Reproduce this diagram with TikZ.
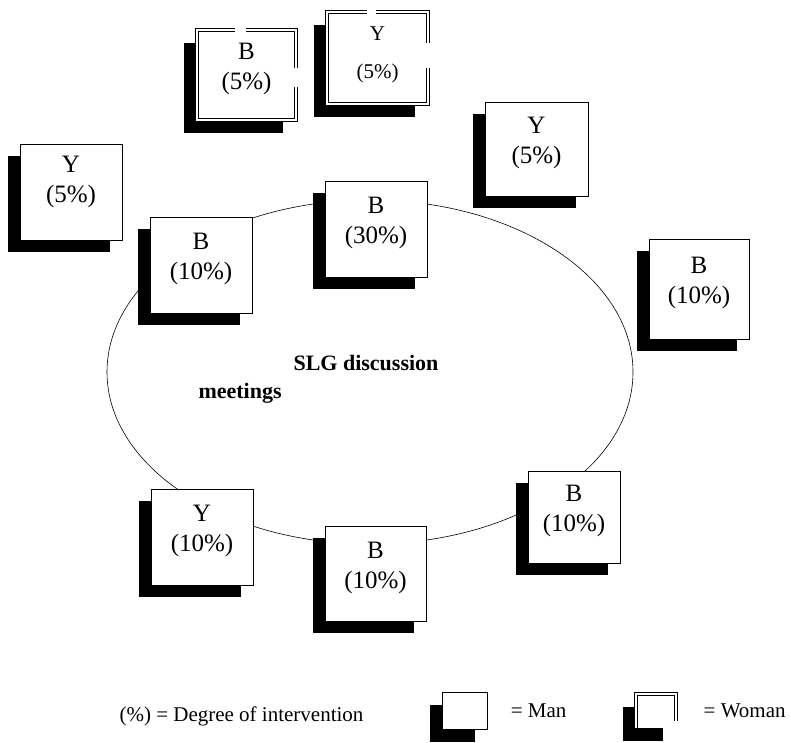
\documentclass[tikz,border=0pt]{standalone}
\usepackage{fontspec}
\setmainfont{Liberation Serif}
\usetikzlibrary{positioning,shapes.geometric,shadows}

\begin{document}
\begin{tikzpicture}[x=1pt,y=-1pt,
   man/.style={draw,line width=0.6pt,fill=white,inner sep=0pt,minimum width=102pt,minimum height=96pt,
     drop shadow={shadow xshift=-12pt,shadow yshift=-12pt,fill=black,opacity=1}},
   woman/.style={fill=white,inner sep=0pt,minimum width=100pt,minimum height=92pt,
     drop shadow={shadow xshift=-13pt,shadow yshift=-13pt,fill=black,opacity=1}},
   wline/.style={draw,line width=1.1pt,double,double distance=2pt},
   pct/.style={align=center,font=\fontsize{25}{30}\selectfont,yshift=6pt},
   key/.style={font=\fontsize{21}{25}\selectfont}]
  \useasboundingbox (0,0) rectangle (791,742);
  % meeting ring
  \node[draw,ellipse,line width=0.6pt,inner sep=0pt,minimum width=526pt,minimum height=344pt] (ring) at (370,372) {};
  \node[anchor=west,font=\fontsize{22}{26}\selectfont\bfseries] (slg) at (290,363) {SLG discussion};
  \node[anchor=west,font=\fontsize{22}{26}\selectfont\bfseries] (meet) at (195,393) {meetings};
  % men
  \node[man,label={[pct,yshift=4pt]center:Y\\(5\%)}] (yfar) at (71,192) {};
  \node[man,label={[pct]center:B\\(10\%)}] (bleft) at (201,265) {};
  \node[man,label={[pct]center:B\\(30\%)}] (btop) at (376,229) {};
  \node[man,minimum width=103pt,minimum height=94pt,label={[pct]center:Y\\(5\%)}] (yright) at (536.5,149) {};
  \node[man,minimum width=100pt,minimum height=100pt,label={[pct]center:B\\(10\%)}] (bright) at (699,289) {};
  \node[man,minimum width=92pt,minimum height=92pt,label={[pct]center:B\\(10\%)}] (blow) at (574,517) {};
  \node[man,minimum width=101pt,minimum height=95pt,label={[pct]center:B\\(10\%)}] (bbot) at (375.5,573.5) {};
  \node[man,label={[pct]center:Y\\(10\%)}] (ybot) at (202,537) {};
  % women
  \node[woman,minimum width=99pt,minimum height=90pt,label={[pct]center:B\\(5\%)}] (wb) at (246.5,75) {};
  \draw[wline] ([xshift=-12pt]wb.north) -| (wb.south west) -| ([yshift=-12pt]wb.east);
  \draw[wline] ([yshift=7pt]wb.east) |- ([xshift=-1pt]wb.north);
  \node[woman,minimum width=101pt,minimum height=92pt,label={[pct,yshift=-3pt,font=\fontsize{21}{38}\selectfont]center:Y\\(5\%)}] (wy) at (377.5,58) {};
  \draw[wline] ([xshift=-11pt]wy.north) -| (wy.south west) -| ([yshift=-10pt]wy.east);
  \draw[wline] ([yshift=15pt]wy.east) |- ([xshift=-2pt]wy.north);
  % key
  \node[key] (deg) at (241.5,716) {(\%) = Degree of intervention};
  \node[man,minimum width=45pt,minimum height=37pt] (kman) at (464.5,711) {};
  \node[key,right=20pt of kman] (mantxt) {= Man};
  \node[woman,minimum width=40pt,minimum height=34pt] (kwoman) at (656,711) {};
  \draw[wline] (kwoman.south west) |- (kwoman.north east) -- ([yshift=7pt]kwoman.south east);
  \node[key,right=24pt of kwoman] (womantxt) {= Woman};
\end{tikzpicture}
\end{document}
